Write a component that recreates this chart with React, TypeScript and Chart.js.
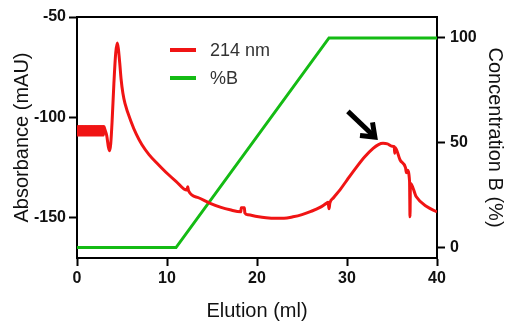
import React, { useEffect, useRef } from "react";
import { Chart, registerables } from "chart.js";

Chart.register(...registerables);

// Absorbance trace (214 nm), x = elution (ml), y = mAU
const redX: number[] = [
  0, 0.05, 0.1, 0.15, 0.2, 0.25, 0.3, 0.35, 0.4, 0.45, 0.5, 0.55, 0.6, 0.65,
  0.7, 0.75, 0.8, 0.85, 0.9, 0.95, 1.0, 1.05, 1.1, 1.15, 1.2, 1.25, 1.3, 1.35,
  1.4, 1.45, 1.5, 1.55, 1.6, 1.65, 1.7, 1.75, 1.8, 1.85, 1.9, 1.95, 2.0, 2.05,
  2.1, 2.15, 2.2, 2.25, 2.3, 2.35, 2.4, 2.45, 2.5, 2.55, 2.6, 2.65, 2.7, 2.75,
  2.8, 2.85, 2.9, 2.95, 3.0,
  3.1, 3.3, 3.5, 3.62, 3.75, 3.9, 4.1, 4.3, 4.48, 4.6, 4.75, 4.9, 5.1, 5.33,
  6, 6.6, 7.2, 8, 9, 10, 11, 12.2, 12.3, 12.4, 13.5, 14.8, 16,
  17, 18.2, 18.25, 18.6, 18.65, 19, 20, 21, 22, 23, 24, 25, 26, 27, 27.7, 27.9,
  28.0, 28.1, 28.5, 29.2, 30, 31.1, 32, 32.9, 33.5, 34, 34.5, 35, 35.25, 35.3,
  35.35, 35.9, 36.5, 36.6, 36.7, 36.95, 37, 37.05, 37.7, 38.9, 40,
];
const redY: number[] = [
  -104.5, -108.8, -104.5, -108.8, -104.5, -108.8, -104.5, -108.8, -104.5,
  -108.8, -104.5, -108.8, -104.5, -108.8, -104.5, -108.8, -104.5, -108.8,
  -104.5, -108.8, -104.5, -108.8, -104.5, -108.8, -104.5, -108.8, -104.5,
  -108.8, -104.5, -108.8, -104.5, -108.8, -104.5, -108.8, -104.5, -108.8,
  -104.5, -108.8, -104.5, -108.8, -104.5, -108.8, -104.5, -108.8, -104.5,
  -108.8, -104.5, -108.8, -104.5, -108.8, -104.5, -108.8, -104.5, -108.8,
  -104.5, -108.8, -104.5, -108.8, -104.5, -108.8, -104.5,
  -106, -109, -115, -116.6, -113, -102, -83, -68, -63, -66, -73, -81, -88, -93,
  -102, -108.5, -113.5, -118.5, -123.3, -127.8, -131.8, -136.2, -134.5,
  -136.6, -140, -142.8, -144.8, -146, -147, -145, -145, -147.6, -148.5, -149.3,
  -149.9, -150.2, -150.2, -149.5, -148.4, -146.8, -144.8, -142.8, -142.3,
  -145.5, -142.6, -140, -136.2, -131.2, -124.5, -119.5, -115.4, -113.5, -112.9,
  -113.2, -114.3, -114.5, -117.8, -115, -121.2, -125, -127.5, -126.3, -131.8,
  -149.5, -132.8, -139.5, -144.5, -147,
];

// Gradient (%B)
const greenX: number[] = [0, 11, 28, 40];
const greenY: number[] = [0, 0, 100, 100];

// Annotation arrow (tail -> tip), in data units
const arrowX: number[] = [30.1, 33.1];
const arrowY: number[] = [-97.0, -109.8];

const xTicks: number[] = [0, 10, 20, 30, 40];
const yLeftTicks: number[] = [-150, -100, -50];
const yRightTicks: number[] = [0, 50, 100];

const seriesLabels: string[] = ["214 nm", "%B"];
const seriesColors: string[] = ["#f01414", "#14bb14"];

const FONT = "'Liberation Sans', Arial, Helvetica, sans-serif";

const overlayPlugin = {
  id: "overlay",
  afterDatasetsDraw(chart: any) {
    const { ctx, chartArea, scales } = chart;
    ctx.save();
    // top frame line
    ctx.strokeStyle = "#000";
    ctx.lineWidth = 2;
    ctx.beginPath();
    ctx.moveTo(chartArea.left - 1, chartArea.top);
    ctx.lineTo(chartArea.right + 1, chartArea.top);
    ctx.stroke();

    // legend
    const lx = 170;
    const ly = [50, 78];
    chart.data.datasets.forEach((ds: any, i: number) => {
      ctx.strokeStyle = ds.borderColor;
      ctx.lineWidth = 4;
      ctx.beginPath();
      ctx.moveTo(lx, ly[i]);
      ctx.lineTo(lx + 26, ly[i]);
      ctx.stroke();
      ctx.fillStyle = "#333";
      ctx.font = `18px ${FONT}`;
      ctx.textBaseline = "middle";
      ctx.textAlign = "left";
      ctx.fillText(ds.label, lx + 40, ly[i] + 1);
    });

    // arrow
    const x0 = scales.x.getPixelForValue(arrowX[0]);
    const y0 = scales.y.getPixelForValue(arrowY[0]);
    const x1 = scales.x.getPixelForValue(arrowX[1]);
    const y1 = scales.y.getPixelForValue(arrowY[1]);
    const ang = Math.atan2(y1 - y0, x1 - x0);
    ctx.strokeStyle = "#000";
    ctx.lineWidth = 5;
    ctx.lineCap = "butt";
    ctx.lineJoin = "miter";
    ctx.beginPath();
    ctx.moveTo(x0, y0);
    ctx.lineTo(x1 - 3 * Math.cos(ang), y1 - 3 * Math.sin(ang));
    ctx.stroke();
    const hl = 15;
    ctx.beginPath();
    ctx.moveTo(x1 - hl * Math.cos(ang - 0.65), y1 - hl * Math.sin(ang - 0.65));
    ctx.lineTo(x1, y1);
    ctx.lineTo(x1 - hl * Math.cos(ang + 0.65), y1 - hl * Math.sin(ang + 0.65));
    ctx.stroke();
    ctx.restore();
  },
};

export default function App() {
  const ref = useRef<HTMLCanvasElement | null>(null);
  useEffect(() => {
    if (!ref.current) return;
    const tickFont = { family: FONT, size: 16, weight: "bold" as const };
    const titleFont = { family: FONT, size: 20, weight: "normal" as const };
    const gridCfg = {
      display: true,
      drawOnChartArea: false,
      drawTicks: true,
      tickLength: 8,
      tickWidth: 2,
      tickColor: "#000",
    };
    const borderCfg = { display: true, color: "#000", width: 2 };
    const chart = new Chart(ref.current, {
      type: "line",
      data: {
        datasets: [
          {
            label: seriesLabels[0],
            data: redX.map((x, i) => ({ x, y: redY[i] })),
            borderColor: seriesColors[0],
            borderWidth: 3,
            pointRadius: 0,
            cubicInterpolationMode: "monotone",
            yAxisID: "y",
          },
          {
            label: seriesLabels[1],
            data: greenX.map((x, i) => ({ x, y: greenY[i] })),
            borderColor: seriesColors[1],
            borderWidth: 3,
            pointRadius: 0,
            tension: 0,
            yAxisID: "y1",
          },
        ],
      },
      options: {
        responsive: false,
        animation: false,
        layout: { padding: { top: 17, left: 0, right: 0, bottom: 0 } },
        plugins: { legend: { display: false }, tooltip: { enabled: false } },
        scales: {
          x: {
            type: "linear",
            min: 0,
            max: 40,
            afterBuildTicks: (s: any) => {
              s.ticks = xTicks.map((v) => ({ value: v }));
            },
            afterFit: (s: any) => {
              s.height = 66;
            },
            ticks: { font: tickFont, color: "#111", padding: 3, maxRotation: 0 },
            grid: gridCfg,
            border: borderCfg,
            title: {
              display: true,
              text: "Elution (ml)",
              font: titleFont,
              color: "#111",
              padding: { top: 0, bottom: 1 },
            },
          },
          y: {
            type: "linear",
            position: "left",
            min: -170,
            max: -50,
            afterBuildTicks: (s: any) => {
              s.ticks = yLeftTicks.map((v) => ({ value: v }));
            },
            afterFit: (s: any) => {
              s.width = 77;
            },
            ticks: { font: tickFont, color: "#111", padding: 3 },
            grid: gridCfg,
            border: borderCfg,
            title: {
              display: true,
              text: "Absorbance (mAU)",
              font: titleFont,
              color: "#111",
              padding: { top: 10, bottom: 0 },
            },
          },
          y1: {
            type: "linear",
            position: "right",
            min: -5,
            max: 110,
            afterBuildTicks: (s: any) => {
              s.ticks = yRightTicks.map((v) => ({ value: v }));
            },
            afterFit: (s: any) => {
              s.width = 72;
            },
            ticks: { font: tickFont, color: "#111", padding: 5 },
            grid: gridCfg,
            border: borderCfg,
            title: {
              display: true,
              text: "Concentration B (%)",
              font: titleFont,
              color: "#111",
              padding: { top: 2, bottom: 0 },
            },
          },
        },
      },
      plugins: [overlayPlugin],
    });
    return () => chart.destroy();
  }, []);
  return (
    <div style={{ position: "fixed", left: 0, top: 0, width: 509, height: 324, background: "#fff" }}>
      <canvas ref={ref} width={509} height={324} />
    </div>
  );
}
